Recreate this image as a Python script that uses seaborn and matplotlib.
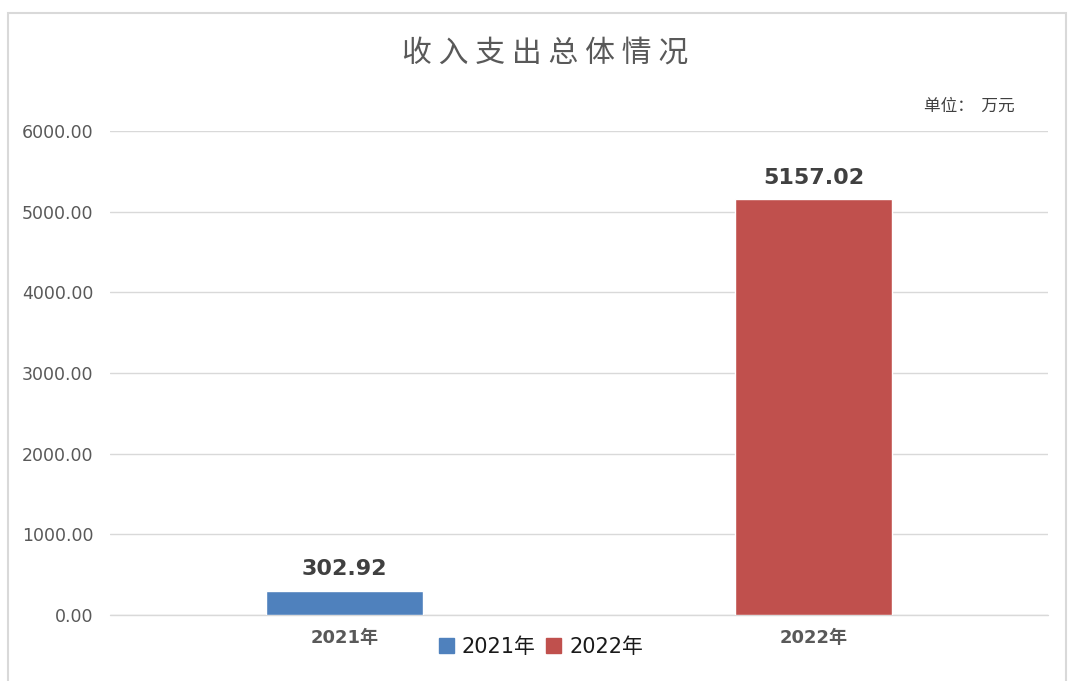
import matplotlib
matplotlib.use("Agg")
import matplotlib.pyplot as plt
import seaborn as sns
from matplotlib.patches import Rectangle

years = ["2021年", "2022年"]
values = [302.92, 5157.02]
colors = ["#4F81BD", "#C0504D"]
yticks = [0, 1000, 2000, 3000, 4000, 5000, 6000]
title = "收入支出总体情况"
unit = "单位：  万元"

sns.set_theme(style="white")
fam = ['DejaVu Sans', 'Noto Sans CJK SC']
plt.rcParams['font.family'] = fam

fig = plt.figure(figsize=(10.70, 6.81), dpi=100)
ax = fig.add_axes([110/1070, 1-615/681, (1048-110)/1070, (615-131)/681])

sns.barplot(x=years, y=values, hue=years, palette=colors, width=0.333,
            dodge=False, legend=True, ax=ax, saturation=1)

ax.set_ylim(0, 6000)
ax.set_xlim(-0.5, 1.5)
ax.set_yticks(yticks)
ax.set_yticklabels([f"{v:.2f}" for v in yticks], fontsize=12.5, color="#595959",
                   family=fam)
ax.tick_params(axis='y', length=0, pad=12)
ax.tick_params(axis='x', length=0, pad=10)
for lab in ax.get_xticklabels():
    lab.set_fontsize(13)
    lab.set_color("#595959")
    lab.set_fontweight("bold")
    lab.set_family(fam)
ax.yaxis.grid(True, color="#D9D9D9", linewidth=1)
ax.axhline(0, color="#D9D9D9", linewidth=1, clip_on=False, zorder=0.5)
ax.set_axisbelow(True)
for s in ax.spines.values():
    s.set_visible(False)
ax.set_xlabel("")
ax.set_ylabel("")

for i, v in enumerate(values):
    ax.annotate(f"{v:.2f}", (i, v), xytext=(0, 8), textcoords="offset points",
                ha="center", va="bottom", fontsize=16, fontweight="bold", color="#404040",
                family=fam)

ax.get_legend().remove()
handles = [Rectangle((0, 0), 1, 1, color=c) for c in colors]
fig.legend(handles, years, loc="center", bbox_to_anchor=(541/1070, 1-647/681),
           ncol=2, frameon=False, fontsize=15, handlelength=0.7, handleheight=0.7,
           columnspacing=0.5, handletextpad=0.4, labelcolor="#1a1a1a")

fig.text(545/1070, 1-53/681, " ".join(title), ha="center", va="center",
         fontsize=21.5, color="#595959", family=['Noto Sans CJK SC', 'DejaVu Sans'])
fig.text(1015/1070, 1-106/681, unit, ha="right", va="center", fontsize=12,
         color="#404040", family=['Noto Sans CJK SC', 'DejaVu Sans'])

fig.patches.append(Rectangle((8/1070, -0.01), (1066-8)/1070, 1-13/681+0.01,
                             transform=fig.transFigure, fill=False,
                             edgecolor="#D9D9D9", linewidth=1.5))

fig.savefig("out.png", dpi=100, facecolor="white")
